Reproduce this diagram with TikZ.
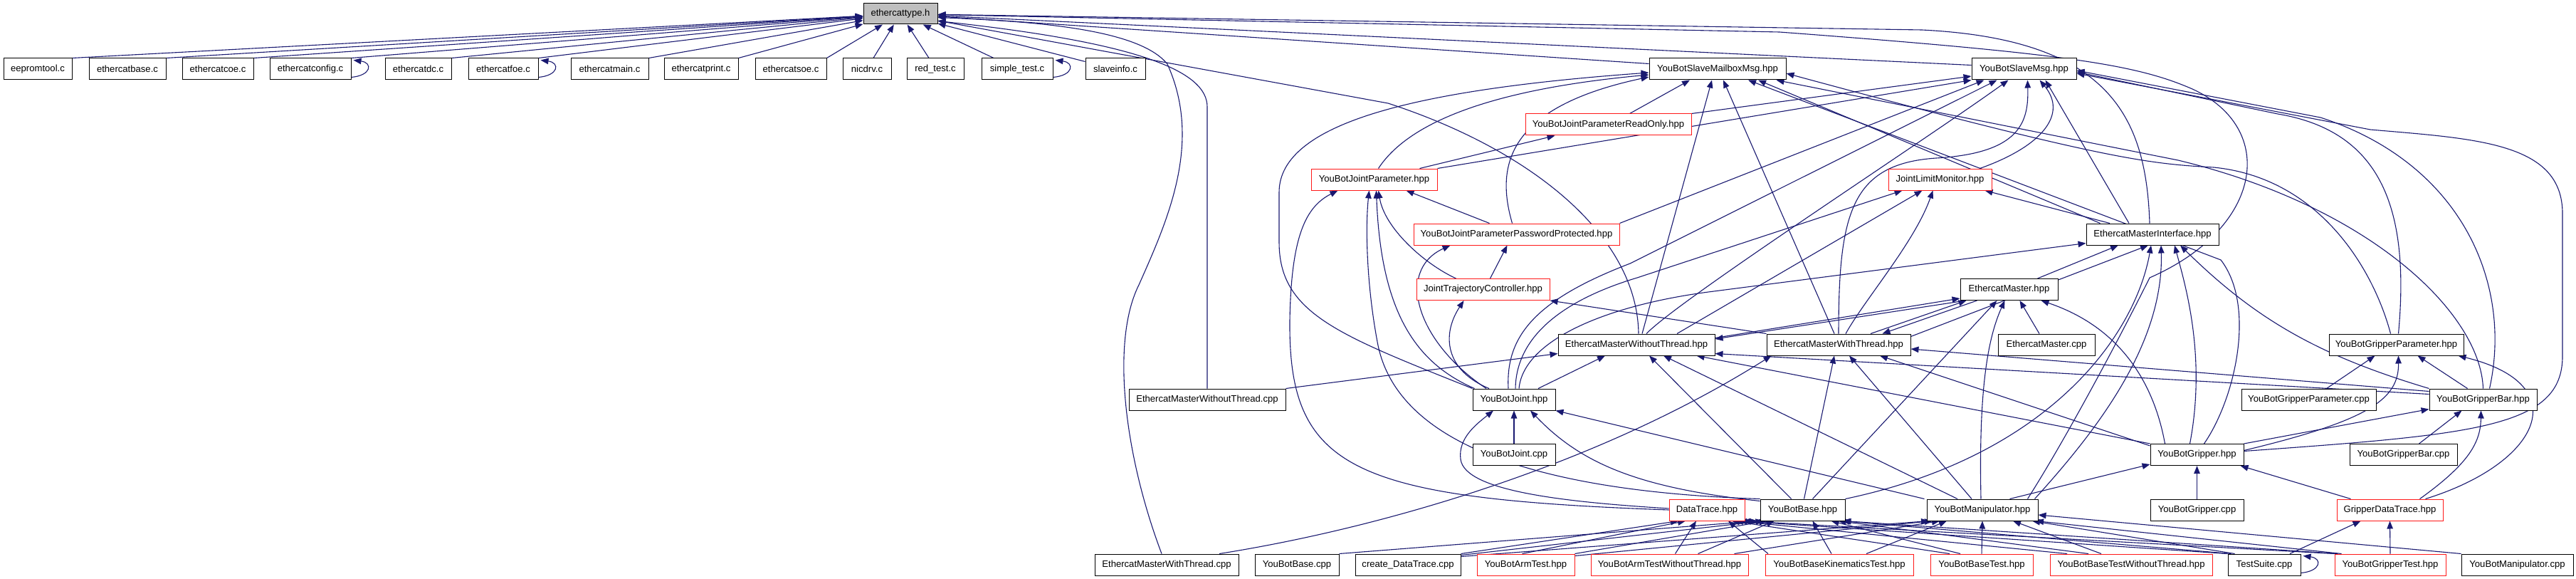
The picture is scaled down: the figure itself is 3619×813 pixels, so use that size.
\documentclass[tikz,border=0pt]{standalone}
\usepackage{fontspec}
\setmainfont{Liberation Sans}
\usetikzlibrary{arrows.meta,calc}
\definecolor{ec}{HTML}{191970}
\pgfdeclarelayer{bg}
\pgfsetlayers{bg,main}
\tikzset{
  nb/.style={draw=black, line width=1pt, fill=white, inner sep=0pt, minimum height=30pt, font=\fontsize{13.1pt}{15pt}\selectfont},
  nr/.style={nb, draw=red!90},
  conn/.style={draw=ec, line width=1.1pt, -{Triangle[length=11pt,width=8.5pt]}},
}
\begin{document}
\begin{tikzpicture}[x=1pt,y=-1pt]
\useasboundingbox (0,0) rectangle (3619,813);
% row 0
\node[nb, fill=black!25, minimum width=104, minimum height=29] (T) at (1265,19.5) {ethercattype.h};
% row 1
\node[nb, minimum width=96]  (eeprom)  at (53,97) {eepromtool.c};
\node[nb, minimum width=108] (ebase)   at (179,97) {ethercatbase.c};
\node[nb, minimum width=100] (ecoe)    at (306,97) {ethercatcoe.c};
\node[nb, minimum width=114] (econfig) at (436,97) {ethercatconfig.c};
\node[nb, minimum width=93]  (edc)     at (587.5,97) {ethercatdc.c};
\node[nb, minimum width=98]  (efoe)    at (707,97) {ethercatfoe.c};
\node[nb, minimum width=109] (emain)   at (856.5,97) {ethercatmain.c};
\node[nb, minimum width=104] (eprint)  at (985,97) {ethercatprint.c};
\node[nb, minimum width=100] (esoe)    at (1111,97) {ethercatsoe.c};
\node[nb, minimum width=68]  (nicdrv)  at (1218,97) {nicdrv.c};
\node[nb, minimum width=80]  (redtest) at (1314,97) {red\_test.c};
\node[nb, minimum width=100] (simple)  at (1429,97) {simple\_test.c};
\node[nb, minimum width=84]  (slave)   at (1567,97) {slaveinfo.c};
\node[nb, minimum width=192] (SMM)     at (2413,97) {YouBotSlaveMailboxMsg.hpp};
\node[nb, minimum width=147] (SMSG)    at (2843.5,97) {YouBotSlaveMsg.hpp};
% row 3-6
\node[nr, minimum width=233] (RO)  at (2259.5,175) {YouBotJointParameterReadOnly.hpp};
\node[nr, minimum width=177] (YJP) at (1930.5,252) {YouBotJointParameter.hpp};
\node[nr, minimum width=145] (JLM) at (2725.5,252) {JointLimitMonitor.hpp};
\node[nr, minimum width=289] (PP)  at (2130.5,329) {YouBotJointParameterPasswordProtected.hpp};
\node[nb, minimum width=186] (EMI) at (3024,329) {EthercatMasterInterface.hpp};
\node[nr, minimum width=187] (JTC) at (2083.5,406.5) {JointTrajectoryController.hpp};
\node[nb, minimum width=137] (EMh) at (2822.5,406.5) {EthercatMaster.hpp};
% row 7
\node[nb, minimum width=220] (EMWoTh) at (2299,484) {EthercatMasterWithoutThread.hpp};
\node[nb, minimum width=202] (EMWTh)  at (2583,484) {EthercatMasterWithThread.hpp};
\node[nb, minimum width=136] (EMcpp)  at (2875,484) {EthercatMaster.cpp};
\node[nb, minimum width=189] (YGPh)   at (3366.5,484) {YouBotGripperParameter.hpp};
% row 8
\node[nb, minimum width=220] (EMWoTc) at (1696,561) {EthercatMasterWithoutThread.cpp};
\node[nb, minimum width=116] (YJh)    at (2127,561) {YouBotJoint.hpp};
\node[nb, minimum width=189] (YGPc)   at (3243.5,561) {YouBotGripperParameter.cpp};
\node[nb, minimum width=151] (YGBh)   at (3488.5,561) {YouBotGripperBar.hpp};
% row 9
\node[nb, minimum width=116] (YJc)  at (2127,638.5) {YouBotJoint.cpp};
\node[nb, minimum width=131] (YGh)  at (3086.5,638.5) {YouBotGripper.hpp};
\node[nb, minimum width=151] (YGBc) at (3376.5,638.5) {YouBotGripperBar.cpp};
% row 10
\node[nr, minimum width=106] (DT)  at (2398,716) {DataTrace.hpp};
\node[nb, minimum width=119] (YBh) at (2532.5,716) {YouBotBase.hpp};
\node[nb, minimum width=156] (YMh) at (2785,716) {YouBotManipulator.hpp};
\node[nb, minimum width=131] (YGc) at (3086.5,716) {YouBotGripper.cpp};
\node[nr, minimum width=149] (GDT) at (3357.5,716) {GripperDataTrace.hpp};
% row 11
\node[nb, minimum width=202] (EMWTc) at (1639,793) {EthercatMasterWithThread.cpp};
\node[nb, minimum width=118] (YBc)   at (1822,793) {YouBotBase.cpp};
\node[nb, minimum width=148] (cDT)   at (1978,793) {create\_DataTrace.cpp};
\node[nr, minimum width=137] (YAT)   at (2143.5,793) {YouBotArmTest.hpp};
\node[nr, minimum width=221] (YATW)  at (2345.5,793) {YouBotArmTestWithoutThread.hpp};
\node[nr, minimum width=208] (YBKT)  at (2584,793) {YouBotBaseKinematicsTest.hpp};
\node[nr, minimum width=144] (YBT)   at (2784,793) {YouBotBaseTest.hpp};
\node[nr, minimum width=228] (YBTW)  at (2994,793) {YouBotBaseTestWithoutThread.hpp};
\node[nb, minimum width=102] (TS)    at (3181,793) {TestSuite.cpp};
\node[nr, minimum width=156] (YGT)   at (3358,793) {YouBotGripperTest.hpp};
\node[nb, minimum width=157] (YMc)   at (3536.5,793) {YouBotManipulator.cpp};

\begin{pgfonlayer}{bg}
% ---- into ethercattype.h
\foreach \n in {eeprom,ebase,ecoe,econfig,edc,efoe,emain,eprint,esoe} \draw[conn] (\n.north east) -- (T);
\draw[conn] ($(nicdrv.north)+(9,0)$) -- (T);
\draw[conn] ($(redtest.north)+(-9,0)$) -- (T);
\draw[conn] ($(simple.north)+(-33,0)$) -- (T);
\draw[conn] ($(slave.north west)+(0,5)$) -- (T);
\draw[conn] ($(econfig.south east)+(0,-4)$) .. controls (522,106) and (524,88) .. ($(econfig.north east)+(3,3)$);
\draw[conn] ($(efoe.south east)+(0,-4)$) .. controls (785,106) and (787,88) .. ($(efoe.north east)+(3,3)$);
\draw[conn] ($(simple.south east)+(0,-4)$) .. controls (1508,106) and (1510,88) .. ($(simple.north east)+(3,3)$);
\draw[conn] ($(TS.south east)+(0,-4)$) .. controls (3261,802) and (3263,784) .. ($(TS.north east)+(3,3)$);
\draw[conn] ($(SMM.north west)+(0,8)$) -- (T);
\draw[conn] ($(SMSG.north west)+(0,10)$) -- (T);
\draw[conn] ($(EMI.north)+(-4,0)$) .. controls (3015,160) and (2960,55) .. (2700,42) -- (T);
\draw[conn] ($(EMWoTh.north)+(3,0)$) .. controls (2300,330) and (2150,210) .. (1950,145) -- (T);
\draw[conn] (EMWoTc.north) -- (1696,150) .. controls (1696,100) and (1600,60) .. ($(T.east)+(0,10)$);
\draw[conn] ($(EMWTc.north)+(-7,0)$) .. controls (1580,640) and (1560,480) .. (1600,400) .. controls (1640,310) and (1690,200) .. (1640,90) .. controls (1600,40) and (1450,30) .. ($(T.east)+(0,5)$);
\draw[conn] ($(YMh.north east)+(-15,0)$) .. controls (2900,620) and (2975,480) .. (3020,390) .. controls (3180,320) and (3200,180) .. (3080,125) .. controls (3000,90) and (2900,75) .. (2500,45) -- (T);

% ---- SMM / SMSG
\draw[conn] ($(RO.north)+(30,0)$) -- ($(SMM.south)+(-39,0)$);
\draw[conn] (RO.north east) -- ($(SMSG.west)+(0,10)$);
\draw[conn] ($(YJP.north)+(6,0)$) .. controls (1980,170) and (2100,125) .. ($(SMM.west)+(0,8)$);
\draw[conn] ($(PP.north)+(-6,0)$) .. controls (2100,230) and (2120,150) .. ($(SMM.west)+(0,11)$);
\draw[conn] (YJh.north west) .. controls (1880,470) and (1797,440) .. (1797,340) -- (1797,270) .. controls (1797,170) and (2000,125) .. ($(SMM.west)+(0,5)$);
\draw[conn] (YJP.north east) -- (SMSG.south west);
\draw[conn] (PP.north east) -- ($(SMSG.south west)+(18,0)$);
\draw[conn] ($(YJh.north)+(-8,0)$) .. controls (2115,470) and (2160,420) .. (2290,370) -- ($(SMSG.south west)+(36,0)$);
\draw[conn] ($(EMWoTh.north)+(14,0)$) .. controls (2360,420) and (2700,200) .. ($(SMSG.south west)+(52,0)$);
\draw[conn] (EMWTh.north) .. controls (2583,300) and (2600,230) .. (2720,222) .. controls (2840,215) and (2850,170) .. ($(SMSG.south)+(5,0)$);
\draw[conn] ($(JLM.north east)+(-17,0)$) .. controls (2870,205) and (2905,160) .. ($(SMSG.south)+(22,0)$);
\draw[conn] ($(EMI.north)+(-33,0)$) -- ($(SMSG.south)+(30,0)$);
\draw[conn] ($(EMI.north west)+(20,0)$) -- ($(SMM.south)+(57,0)$);
\draw[conn] ($(EMWoTh.north)+(8,0)$) -- ($(SMM.south)+(-8,0)$);
\draw[conn] ($(EMWTh.north)+(-6,0)$) -- ($(SMM.south)+(8,0)$);
\draw[conn] ($(YGh.north)+(10,0)$) .. controls (3140,560) and (3170,430) .. (3120,365) -- ($(SMM.south)+(43,0)$);
\draw[conn] (YGBh.north) .. controls (3485,440) and (3330,290) .. (3060,225) -- ($(SMM.south east)+(-14,0)$);
\draw[conn] ($(YGPh.north)+(-8,0)$) .. controls (3335,380) and (3260,250) .. (3110,235) .. controls (3020,230) and (2960,225) .. ($(SMM.east)+(0,6)$);
\draw[conn] ($(YGh.east)+(0,-5)$) .. controls (3480,610) and (3600,600) .. (3600,500) -- (3600,300) .. controls (3600,200) and (3480,195) .. (3330,182) -- ($(SMSG.east)+(0,6)$);
\draw[conn] ($(YGPh.north)+(3,0)$) .. controls (3385,300) and (3350,185) .. (3200,160) -- ($(SMSG.east)+(0,4)$);
\draw[conn] ($(YGBh.north)+(9,0)$) .. controls (3530,400) and (3460,230) .. (3260,165) -- ($(SMSG.east)+(0,2)$);

% ---- joint parameters
\draw[conn] ($(YJP.north)+(64,0)$) -- ($(RO.south)+(-75,0)$);
\draw[conn] ($(PP.north)+(-38,0)$) -- ($(YJP.south)+(45,0)$);
\draw[conn] ($(JTC.north)+(-38,0)$) .. controls (2000,370) and (1945,320) .. ($(YJP.south)+(6,0)$);
\draw[conn] ($(JTC.north)+(10,0)$) -- ($(PP.south)+(-13,0)$);
\draw[conn] ($(YJh.north west)+(3,0)$) .. controls (1990,510) and (1940,440) .. ($(YJP.south)+(3,0)$);
\draw[conn] ($(YJh.north)+(-39,0)$) .. controls (1990,480) and (1960,380) .. ($(PP.south)+(-93,0)$);
\draw[conn] ($(YJh.north)+(-35,0)$) .. controls (2030,520) and (2025,470) .. ($(JTC.south)+(-27,0)$);
\draw[conn] (DT.west) .. controls (1900,700) and (1810,660) .. (1812,450) .. controls (1814,330) and (1835,290) .. ($(YJP.south)+(-51,0)$);
\draw[conn] (YBh.north west) .. controls (2150,690) and (1960,620) .. (1935,480) .. controls (1920,400) and (1918,320) .. ($(YJP.south)+(-7,0)$);
\draw[conn] (EMWTh.north west) -- (JTC.south east);

% ---- JLM / EMI
\draw[conn] ($(YJh.north)+(2,0)$) .. controls (2130,470) and (2200,420) .. (2300,390) -- ($(JLM.south)+(-53,0)$);
\draw[conn] ($(YJh.north)+(7,0)$) .. controls (2140,480) and (2250,430) .. (2400,410) -- ($(EMI.south west)+(0,-3)$);
\draw[conn] ($(EMWoTh.north)+(57,0)$) -- ($(JLM.south)+(-25,0)$);
\draw[conn] ($(EMWTh.north)+(10,0)$) .. controls (2620,420) and (2690,340) .. ($(JLM.south)+(-10,0)$);
\draw[conn] ($(EMI.north)+(-60,0)$) -- ($(JLM.south)+(63,0)$);
\draw[conn] ($(EMh.north)+(40,0)$) -- ($(EMI.south)+(-48,0)$);
\draw[conn] ($(EMWTh.north east)+(0,4)$) -- ($(EMI.south)+(-6,0)$);
\draw[conn] (YBh.north east) .. controls (2880,640) and (3000,470) .. ($(EMI.south)+(-2,0)$);
\draw[conn] ($(YMh.north east)+(-5,0)$) .. controls (2950,600) and (3040,480) .. ($(EMI.south)+(12,0)$);
\draw[conn] ($(YGh.north)+(-10,0)$) .. controls (3100,500) and (3070,400) .. ($(EMI.south)+(31,0)$);
\draw[conn] (YGBh.north west) .. controls (3260,500) and (3170,450) .. ($(EMI.south)+(39,0)$);

% ---- EthercatMaster
\draw[conn] ($(EMWoTh.north east)+(0,6)$) -- ($(EMh.south west)+(0,-3)$);
\draw[conn] ($(EMh.south west)+(8,0)$) -- ($(EMWoTh.east)+(0,-8)$);
\draw[conn] ($(EMWTh.north)+(45,0)$) -- ($(EMh.south)+(-60,0)$);
\draw[conn] ($(EMh.south)+(-45,0)$) -- ($(EMWTh.north east)+(-40,0)$);
\draw[conn] ($(EMcpp.north)+(-10,0)$) -- ($(EMh.south)+(15,0)$);
\draw[conn] ($(YBh.north)+(14,0)$) -- ($(EMh.south)+(-17,0)$);
\draw[conn] ($(YMh.north)+(-2,0)$) .. controls (2780,560) and (2790,480) .. ($(EMh.south)+(-6,0)$);
\draw[conn] ($(YGh.north)+(-45,0)$) .. controls (3030,560) and (2995,465) .. ($(EMh.south)+(45,0)$);

% ---- EMWoTh / EMWTh
\draw[conn] (EMWoTc.north east) -- ($(EMWoTh.south west)+(0,-3)$);
\draw[conn] ($(YJh.north)+(34,0)$) -- ($(EMWoTh.south)+(-44,0)$);
\draw[conn] ($(YBh.north)+(-16,0)$) -- ($(EMWoTh.south)+(18,0)$);
\draw[conn] ($(YMh.north)+(-35,0)$) -- ($(EMWoTh.south)+(38,0)$);
\draw[conn] (YGh.north west) -- ($(EMWoTh.south east)+(-26,0)$);
\draw[conn] ($(YGBh.north west)+(0,8)$) -- ($(EMWoTh.south east)+(0,-3)$);
\draw[conn] ($(EMWTc.north)+(74,0)$) .. controls (1950,740) and (2250,650) .. ($(EMWTh.south west)+(7,0)$);
\draw[conn] ($(YBh.north)+(2,0)$) -- ($(EMWTh.south)+(-6,0)$);
\draw[conn] ($(YMh.north)+(-15,0)$) -- ($(EMWTh.south)+(15,0)$);
\draw[conn] ($(YGh.north west)+(0,3)$) -- ($(EMWTh.south)+(58,0)$);
\draw[conn] ($(YGBh.north west)+(0,4)$) -- ($(EMWTh.east)+(0,6)$);

% ---- YouBotJoint
\draw[conn] (YJc) -- (YJh);
\draw[conn] ($(DT.west)+(0,-2)$) .. controls (2200,705) and (2058,690) .. (2052,645) .. controls (2048,615) and (2075,595) .. ($(YJh.south)+(-29,0)$);
\draw[conn] ($(YBh.north west)+(0,3)$) .. controls (2300,685) and (2220,650) .. ($(YJh.south)+(23,0)$);
\draw[conn] ($(YMh.north west)+(-3,0)$) -- (YJh.south east);

% ---- gripper
\draw[conn] ($(YGPc.north)+(25,0)$) -- ($(YGPh.south)+(-30,0)$);
\draw[conn] ($(YGBh.north)+(-22,0)$) -- ($(YGPh.south)+(30,0)$);
\draw[conn] ($(YGh.east)+(0,-6)$) .. controls (3330,590) and (3370,560) .. ($(YGPh.south)+(3,0)$);
\draw[conn] ($(GDT.north)+(50,0)$) .. controls (3570,650) and (3620,540) .. ($(YGPh.south east)+(-8,0)$);
\draw[conn] ($(YGBc.north)+(22,0)$) -- ($(YGBh.south)+(-30,0)$);
\draw[conn] (YGh.north east) -- ($(YGBh.south west)+(0,-2)$);
\draw[conn] ($(GDT.north)+(42,0)$) .. controls (3470,650) and (3485,620) .. ($(YGBh.south)+(-3,0)$);
\draw[conn] (YGc) -- (YGh);
\draw[conn] ($(GDT.north west)+(20,0)$) -- ($(YGh.south east)+(-5,0)$);
\draw[conn] ($(YMh.north east)+(-40,0)$) -- ($(YGh.south west)+(0,-2)$);
\draw[conn] ($(TS.north)+(36,0)$) -- ($(GDT.south)+(-41,0)$);
\draw[conn] (YGT.north) -- (GDT.south);

% ---- bottom row
\draw[conn] (YBc.north east) -- ($(YBh.south west)+(-3,0)$);
\draw[conn] (YMc.north west) -- ($(YMh.east)+(0,7)$);
\draw[conn] (cDT.north east) -- ($(DT.south)+(-40,0)$);
\draw[conn] ($(cDT.north east)+(0,2)$) -- ($(YBh.south)+(-55,0)$);
\draw[conn] ($(cDT.north east)+(0,4)$) -- ($(YMh.south)+(-75,0)$);
\draw[conn] ($(YAT.north)+(-5,0)$) -- ($(DT.south)+(-30,0)$);
\draw[conn] (YAT.north east) -- ($(YBh.south)+(-50,0)$);
\draw[conn] ($(YAT.north east)+(0,3)$) -- ($(YMh.south)+(-70,0)$);
\draw[conn] ($(YATW.north)+(8,0)$) -- ($(DT.south)+(-15,0)$);
\draw[conn] ($(YATW.north)+(40,0)$) -- ($(YBh.south)+(-40,0)$);
\draw[conn] ($(YATW.north east)+(-20,0)$) -- ($(YMh.south)+(-60,0)$);
\draw[conn] ($(YBKT.north)+(-100,0)$) -- ($(DT.south)+(30,0)$);
\draw[conn] ($(YBKT.north)+(-11,0)$) -- ($(YBh.south)+(14,0)$);
\draw[conn] ($(YBKT.north)+(38,0)$) -- ($(YMh.south)+(-50,0)$);
\draw[conn] ($(YBT.north)+(-45,0)$) -- ($(DT.south)+(35,0)$);
\draw[conn] ($(YBT.north)+(-30,0)$) -- ($(YBh.south)+(40,0)$);
\draw[conn] (YBT.north) -- (YMh.south);
\draw[conn] ($(YBTW.north)+(-90,0)$) -- ($(DT.south)+(40,0)$);
\draw[conn] ($(YBTW.north)+(-60,0)$) -- ($(YBh.south)+(50,0)$);
\draw[conn] ($(YBTW.north)+(-42,0)$) -- ($(YMh.south)+(43,0)$);
\draw[conn] (TS.north west) -- ($(DT.south)+(45,0)$);
\draw[conn] ($(TS.north west)+(5,0)$) -- ($(YBh.south)+(55,0)$);
\draw[conn] ($(TS.north west)+(10,0)$) -- ($(YMh.south)+(70,0)$);
\draw[conn] (YGT.north west) -- ($(DT.south)+(50,0)$);
\draw[conn] ($(YGT.north west)+(5,0)$) -- ($(YBh.south)+(57,0)$);
\draw[conn] ($(YGT.north west)+(10,0)$) -- ($(YMh.south)+(75,0)$);
\end{pgfonlayer}
\end{tikzpicture}
\end{document}
